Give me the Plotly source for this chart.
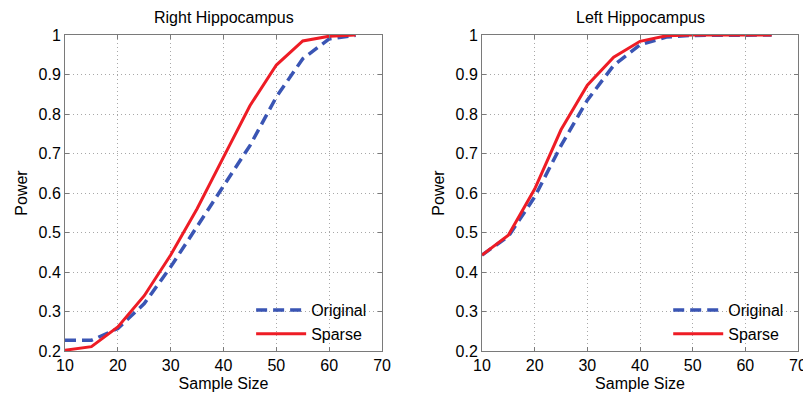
import plotly.graph_objects as go
from plotly.subplots import make_subplots

sample_size = [10, 15, 20, 25, 30, 35, 40, 45, 50, 55, 60, 65]

right_original = [0.227, 0.227, 0.257, 0.32, 0.413, 0.514, 0.615, 0.72, 0.843, 0.94, 0.99, 0.999]
right_sparse = [0.202, 0.211, 0.261, 0.34, 0.443, 0.56, 0.691, 0.821, 0.924, 0.985, 0.997, 1.0]

left_original = [0.443, 0.49, 0.59, 0.72, 0.835, 0.923, 0.975, 0.995, 0.999, 1.0, 1.0, 1.0]
left_sparse = [0.443, 0.493, 0.61, 0.76, 0.873, 0.944, 0.984, 0.998, 1.0, 1.0, 1.0, 1.0]

titles = ["Right Hippocampus", "Left Hippocampus"]
x_ticks = [10, 20, 30, 40, 50, 60, 70]
y_ticks = [0.2, 0.3, 0.4, 0.5, 0.6, 0.7, 0.8, 0.9, 1.0]
y_ticktext = ["0.2", "0.3", "0.4", "0.5", "0.6", "0.7", "0.8", "0.9", "1"]

BLUE = "#3a55b4"
RED = "#ee1c25"
FONT = "Liberation Sans, Arial, Helvetica, sans-serif"
FS = 16

fig = make_subplots(rows=1, cols=2, horizontal_spacing=0.1362)
fig.update_xaxes(domain=[0, 0.4325], row=1, col=1)
fig.update_xaxes(domain=[0.5689, 1.0], row=1, col=2)

panels = [(right_original, right_sparse, "legend"), (left_original, left_sparse, "legend2")]
for i, (orig, sparse, lg) in enumerate(panels, start=1):
    fig.add_trace(go.Scatter(x=sample_size, y=orig, mode="lines", name="Original",
                             line=dict(color=BLUE, width=3.5, dash="11px,6px"),
                             legend=lg), row=1, col=i)
    fig.add_trace(go.Scatter(x=sample_size, y=sparse, mode="lines", name="Sparse",
                             line=dict(color=RED, width=3),
                             legend=lg), row=1, col=i)

axis_common = dict(showline=True, linecolor="#7a7a7a", linewidth=1, mirror="ticks",
                   ticks="inside", ticklen=4, tickcolor="#7a7a7a",
                   showgrid=True, gridcolor="#a8a8a8", griddash="1px,3px", gridwidth=1,
                   zeroline=False, automargin=False,
                   tickfont=dict(size=FS, color="black", family=FONT))

fig.update_xaxes(range=[10, 70], tickvals=x_ticks, title_text="Sample Size",
                 title_font=dict(size=FS, color="black", family=FONT), title_standoff=4,
                 **axis_common)
fig.update_yaxes(range=[0.2, 1.0], tickvals=y_ticks, ticktext=y_ticktext, title_text="Power",
                 title_font=dict(size=FS, color="black", family=FONT), title_standoff=6,
                 **axis_common)

for i, t in enumerate(titles):
    xr = "x domain" if i == 0 else "x2 domain"
    yr = "y domain" if i == 0 else "y2 domain"
    fig.add_annotation(text=t, x=0.5, y=1.0, xref=xr, yref=yr,
                       yanchor="bottom", yshift=7, showarrow=False,
                       font=dict(size=FS, color="black", family=FONT))

legend_common = dict(xanchor="right", yanchor="bottom", bgcolor="rgba(0,0,0,0)",
                     font=dict(size=FS, color="black", family=FONT), tracegroupgap=0,
                     itemwidth=50)
fig.update_layout(
    width=803, height=393,
    margin=dict(l=57, r=13, t=27, b=50),
    paper_bgcolor="white", plot_bgcolor="white",
    font=dict(family=FONT, color="black"),
    legend=dict(x=0.419, y=0.0, **legend_common),
    legend2=dict(x=0.988, y=0.0, **legend_common),
)

fig.write_html("out.html")
